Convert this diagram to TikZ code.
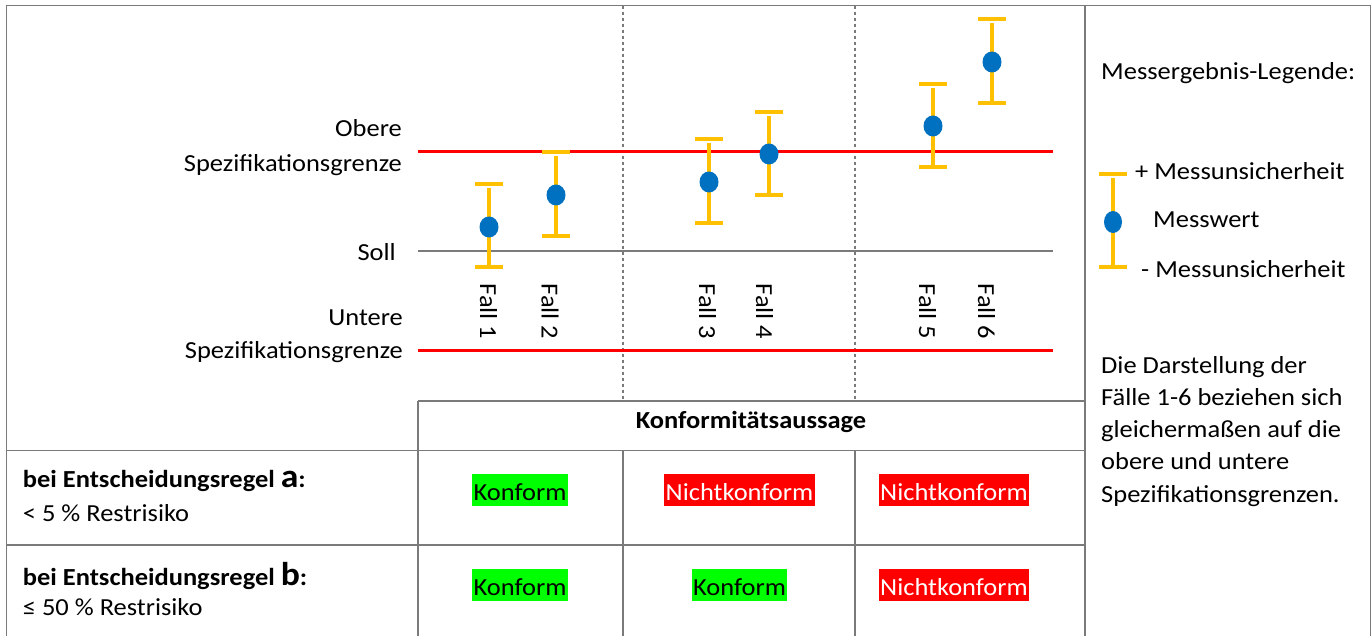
\documentclass[tikz,border=0pt]{standalone}
\usepackage{fontspec}
\setmainfont{Carlito}[FakeStretch=1.08]
\usepackage{tikz}
\usetikzlibrary{shapes.geometric}
\definecolor{messgelb}{HTML}{FFC000}
\definecolor{messblau}{HTML}{0070C0}
\definecolor{rahmengrau}{HTML}{7A7A7A}
\definecolor{hellgruen}{HTML}{00FF00}
\tikzstyle{grenze}=[draw=red,line width=3pt]
\tikzstyle{sollinie}=[draw=rahmengrau,line width=1.2pt]
\tikzstyle{trennlinie}=[draw=rahmengrau,line width=1.2pt,dash pattern=on 3pt off 3pt]
\tikzstyle{gitter}=[draw=rahmengrau,line width=1.5pt]
\tikzstyle{balken}=[draw=messgelb,line width=4.5pt]
\tikzstyle{kappe}=[draw=messgelb,line width=4.5pt]
\tikzstyle{messwert}=[ellipse,fill=messblau,minimum width=19pt,minimum height=21pt,inner sep=0pt]
\tikzstyle{txt}=[font=\fontsize{24.5}{32}\selectfont,inner sep=0pt]
\tikzstyle{fett}=[txt,font=\fontsize{24.5}{32}\selectfont\bfseries]
\tikzset{urteil/.style={txt,minimum height=32pt,inner xsep=1.5pt,text height=20pt,text depth=0pt},
  konform/.style={urteil,fill=hellgruen,text=black},
  nichtkonform/.style={urteil,fill=red,text=white}}

\begin{document}
\begin{tikzpicture}[x=1pt,y=-1pt]
  \useasboundingbox (0,0) rectangle (1372,636);

  % Rahmen und Tabelle
  \draw[gitter] (6.5,640) -- (6.5,5.7) -- (1370.5,5.7) -- (1370.5,640);
  \draw[gitter] (1085,5.7) -- (1085,640);
  \draw[gitter] (418,401) -- (1085,401);
  \draw[gitter] (6.5,450.5) -- (1085,450.5);
  \draw[gitter] (6.5,545) -- (1085,545);
  \draw[gitter] (418,401) -- (418,640);
  \foreach \x in {623,855}{
    \draw[gitter] (\x,450.5) -- (\x,640);
    \draw[trennlinie] (\x,5.7) -- (\x,401);
  }

  % Grenzen
  \draw[grenze] (418,152) -- (1053,152);
  \draw[sollinie] (418,251) -- (1053,251);
  \draw[grenze] (418,350) -- (1053,350);

  \node[txt,anchor=base east] (obere) at (402,137) {Obere};
  \node[txt,anchor=base east] (osg) at (402,171.5) {Spezifikationsgrenze};
  \node[txt,anchor=base east] (soll) at (396,260) {Soll};
  \node[txt,anchor=base east] (untere) at (403,325) {Untere};
  \node[txt,anchor=base east] (usg) at (403,358) {Spezifikationsgrenze};

  % Messergebnisse
  \foreach \x/\o/\m/\u/\name in {489/184/227/267/f1, 556/152/195/236/f2, 709/139/182/223/f3,
                                 769/112/154/195/f4, 933/84/126/167/f5, 992/19/62/103/f6}{
    \coordinate (\name o) at (\x,\o);
    \coordinate (\name u) at (\x,\u);
    \draw[balken] ([yshift=-4.5pt]\name o) -- (\name u);
    \draw[kappe] ([xshift=-14pt]\name o) -- ([xshift=14pt]\name o);
    \draw[kappe] ([xshift=-14pt]\name u) -- ([xshift=14pt]\name u);
    \node[messwert] (\name m) at (\x,\m) {};
  }

  \foreach \x/\nr in {480/1, 541.5/2, 699/3, 756/4, 919/5, 978/6}
    \node[txt,rotate=-90,anchor=base west] (fall\nr) at (\x,283.5) {Fall \nr};

  % Legende
  \node[txt,anchor=base west] (legtitel) at (1101,80) {Messergebnis-Legende:};
  \coordinate (lego) at (1113,174);
  \coordinate (legu) at (1113,267);
  \draw[balken] ([yshift=-4.5pt]lego) -- (legu);
  \draw[kappe] ([xshift=-14pt]lego) -- ([xshift=14pt]lego);
  \draw[kappe] ([xshift=-14pt]legu) -- ([xshift=14pt]legu);
  \node[messwert,minimum width=18pt,minimum height=22pt] (legm) at (1113,222) {};
  \node[txt,anchor=base west] (legplus) at (1135,180) {+ Messunsicherheit};
  \node[txt,anchor=base west] (legwert) at (1153,228) {Messwert};
  \node[txt,anchor=base west] (legminus) at (1141,277) {- Messunsicherheit};

  \foreach \i/\zeile in {0/Die Darstellung der, 1/Fälle 1-6 beziehen sich, 2/gleichermaßen auf die,
                         3/obere und untere, 4/Spezifikationsgrenzen.}
    \node[txt,anchor=base west] (hinweis\i) at (1101,373+32.3*\i) {\zeile};

  % Konformitaetsaussage
  \node[fett,anchor=base] (konfkopf) at (751,428) {Konformitätsaussage};
  \node[fett,anchor=base west] (regela) at (22.7,487) {bei Entscheidungsregel {\fontsize{33}{33}\selectfont a}:};
  \node[txt,anchor=base west] (risikoa) at (22.7,521.5) {< 5 \% Restrisiko};
  \node[fett,anchor=base west] (regelb) at (22.7,585) {bei Entscheidungsregel {\fontsize{33}{33}\selectfont b}:};
  \node[txt,anchor=base west] (risikob) at (22.7,615) {≤ 50 \% Restrisiko};

  \foreach \x/\y/\art/\wort/\name in {520/490/konform/Konform/a1, 739.5/490/nichtkonform/Nichtkonform/a2,
                                      954/490/nichtkonform/Nichtkonform/a3, 520/585/konform/Konform/b1,
                                      739.5/585/konform/Konform/b2, 954/585/nichtkonform/Nichtkonform/b3}
    \node[\art] (\name) at (\x,\y) {\wort};

\end{tikzpicture}
\end{document}
